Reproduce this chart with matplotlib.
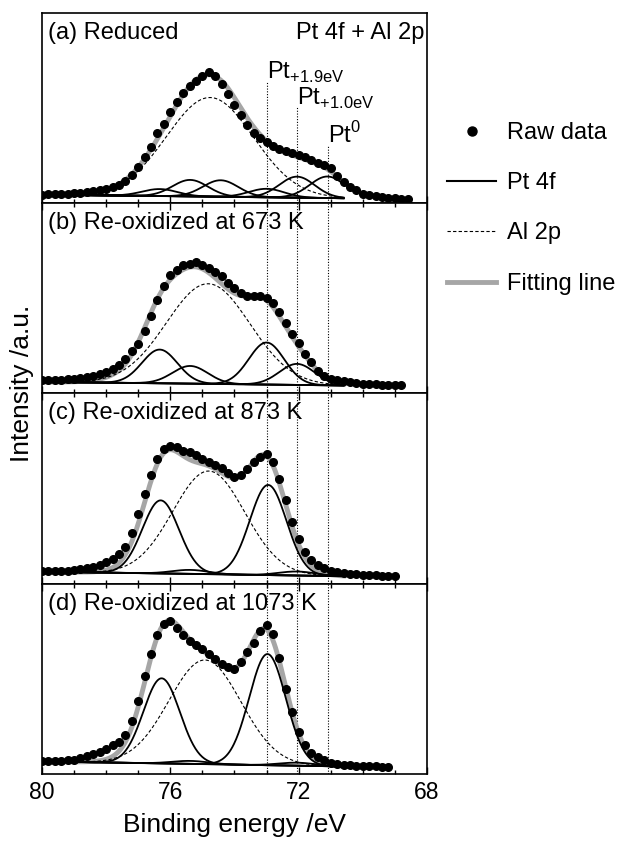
import numpy as np
import matplotlib.pyplot as plt
from matplotlib.lines import Line2D

plt.rcParams['font.family'] = ['Liberation Sans', 'DejaVu Sans']
plt.rcParams['mathtext.fontset'] = 'custom'
plt.rcParams['mathtext.rm'] = 'Liberation Sans'

# Raw data read every 0.2 eV, starting at 80 eV (intensity /a.u.)
raw_a = [8.7, 8.9, 9.1, 9.3, 9.7, 10.1, 10.4, 11.0, 12.0, 13.2,
         14.3, 15.8, 18.5, 22.5, 28, 36.5, 46, 56, 70, 79,
         91, 101, 110, 117, 122, 127, 131.5, 127, 119, 109,
         98, 88, 78, 70.5, 65, 61, 57.5, 54.5, 52, 50.5,
         48.5, 45.8, 43.5, 40.5, 38.5, 35, 27, 21, 16, 12.8,
         9.5, 8.0, 7.0, 6.0, 5.5, 5.0, 4.6, 4.3]
raw_b = [13, 13.2, 13.4, 13.6, 14.0, 14.6, 15.7, 16.5, 17.5, 19,
         21, 24.5, 28, 34, 42, 49.7, 62, 77, 93, 107,
         118, 123, 128, 129.7, 131, 128.5, 125, 121, 117, 110,
         105, 100, 97, 97.5, 97, 95, 90, 81, 70, 59,
         50, 39, 31, 22, 17.5, 14.5, 13, 12, 11, 10.3,
         9.7, 9.3, 9.0, 8.6, 8.3, 8.0, 8.0]
raw_c = [12.3, 12.5, 12.7, 12.9, 13.1, 13.7, 14.7, 15.8, 17, 19,
         21.5, 24.5, 30, 37, 51, 70, 90, 109, 125, 135,
         138, 136.3, 133, 131.3, 128.3, 125, 122, 118.7, 115.5, 111,
         106.5, 108.5, 115, 121.5, 127, 129.5, 122, 105, 84, 62,
         45, 32, 23.5, 19, 15.8, 13, 12, 10.8, 10, 9.5,
         9, 8.6, 8.3, 7.9, 7.5, 7.3]
raw_d = [13.3, 13.3, 13.3, 13.3, 13.6, 14.3, 15.7, 17.5, 19.5, 22,
         25, 28.5, 32, 39, 53, 73, 98, 120, 139, 149.5,
         152.3, 145.7, 139, 132.3, 129, 124.5, 120, 115, 110, 106.5,
         105, 112, 121.5, 131, 142.3, 149, 140, 116, 85, 62,
         42, 28.5, 21, 16.5, 13.5, 11.3, 10.3, 9.4, 8.8, 8.4,
         8, 7.8, 7.5, 7.3, 7]

titles = ['(a) Reduced', '(b) Re-oxidized at 673 K',
          '(c) Re-oxidized at 873 K', '(d) Re-oxidized at 1073 K']

# Pt 4f components (peak position /eV, height)
pt_pos_a = [71.1, 72.05, 73.0, 74.43, 75.38, 76.33]
pt_amp_a = [21.5, 21, 8.5, 16.5, 16.5, 7]
pt_pos_b = [72.05, 73.0, 75.38, 76.33]
pt_amp_b = [21, 42, 17.7, 33.7]
pt_pos_c = [72.05, 72.95, 75.38, 76.3]
pt_amp_c = [4, 90, 4, 73]
pt_pos_d = [72.05, 72.97, 75.38, 76.27]
pt_amp_d = [3, 111, 3, 85]
pt_sigma = [0.55, 0.55, 0.57, 0.57]

# Al 2p component
al_pos = [74.76, 74.82, 74.8, 74.92]
al_amp = [99, 100, 103, 104]
al_sigma = [1.35, 1.3, 1.12, 1.12]

# linear background at both ends of the fitting range
fit_lo, fit_hi = 80.0, 70.6
bg_start = [8.5, 11.5, 12, 12.5]
bg_end = [5, 8, 7.5, 7.5]

# chemical state markers
ref_pos = [73.0, 72.05, 71.1]
ref_text = [r'Pt$_{\mathregular{+1.9eV}}$', r'Pt$_{\mathregular{+1.0eV}}$',
            r'Pt$^{\mathregular{0}}$']
ref_top = [121, 96, 58]
ref_label_y = [124, 98, 60]


def gauss(x, c, a, s):
    return a * np.exp(-(x - c) ** 2 / (2 * s ** 2))


raws = [raw_a, raw_b, raw_c, raw_d]
pt_pos = [pt_pos_a, pt_pos_b, pt_pos_c, pt_pos_d]
pt_amp = [pt_amp_a, pt_amp_b, pt_amp_c, pt_amp_d]

fig = plt.figure(figsize=(6.17, 8.42), dpi=100)
axes = fig.subplots(4, 1, sharex=True)
fig.subplots_adjust(left=0.068, right=0.692, bottom=0.0808, top=0.9846, hspace=0)

for i, ax in enumerate(axes):
    raw = np.array(raws[i])
    e_raw = 80.0 - 0.2 * np.arange(len(raw))

    e = np.linspace(fit_lo, fit_hi, 400)
    bg = bg_start[i] + (bg_end[i] - bg_start[i]) * (fit_lo - e) / (fit_lo - fit_hi)
    al = bg + gauss(e, al_pos[i], al_amp[i], al_sigma[i])
    fit = al.copy()

    peaks = []
    for c, a in zip(pt_pos[i], pt_amp[i]):
        g = gauss(e, c, a, pt_sigma[i])
        fit += g
        peaks.append(bg + g)

    ax.plot(e, fit, color='#a6a6a6', lw=3.5, zorder=1)
    for p in peaks:
        ax.plot(e, p, color='black', lw=1.3, zorder=2)
    ax.plot(e, bg, color='black', lw=1.3, zorder=2)
    ax.plot(e, al, color='black', lw=0.8, dashes=(3, 2), zorder=2)
    ax.plot(e_raw, raw, 'o', color='black', ms=5.5, zorder=3)

    for j, x in enumerate(ref_pos):
        top = ref_top[j] if i == 0 else 200
        ax.plot([x, x], [0, top], color='black', lw=0.8,
                ls=(0, (1, 1.5)), zorder=0)

    ax.text(0.016, 0.895, titles[i], transform=ax.transAxes,
            fontsize=17, va='center', ha='left')

    ax.set_xlim(80, 68)
    ax.set_ylim(0, 190)
    ax.set_yticks([])
    ax.set_xticks([80, 76, 72, 68])
    ax.set_xticks(np.arange(69, 80), minor=True)
    ax.tick_params(which='both', direction='in', top=(i > 0), bottom=True,
                   labelbottom=(i == 3), labelsize=16.5, pad=5, width=1)
    ax.tick_params(which='major', length=5)
    ax.tick_params(which='minor', length=3)
    for s in ax.spines.values():
        s.set_linewidth(1.2)

axes[0].text(0.992, 0.895, 'Pt 4f + Al 2p', transform=axes[0].transAxes,
             fontsize=17, va='center', ha='right')
for j, x in enumerate(ref_pos):
    axes[0].text(x, ref_label_y[j], ref_text[j], fontsize=17,
                 ha='left', va='baseline')

fig.text(0.0357, 0.5445, 'Intensity /a.u.', rotation=90, fontsize=19,
         ha='center', va='center')
fig.text((0.068 + 0.692) / 2, 0.0202, 'Binding energy /eV', fontsize=19,
         ha='center', va='center')

handles = [Line2D([], [], marker='o', ls='none', color='black', ms=6.5),
           Line2D([], [], color='black', lw=1.5),
           Line2D([], [], color='black', lw=0.8, dashes=(3, 2)),
           Line2D([], [], color='#a6a6a6', lw=3.5)]
labels = ['Raw data', 'Pt 4f', 'Al 2p', 'Fitting line']
fig.legend(handles, labels, loc='upper left',
           bbox_to_anchor=(435 / 617, 1 - 110 / 842), frameon=False,
           fontsize=17, handlelength=2.1, handletextpad=0.45,
           labelspacing=1.2, borderpad=0)

fig.savefig('out.png', dpi=100)
